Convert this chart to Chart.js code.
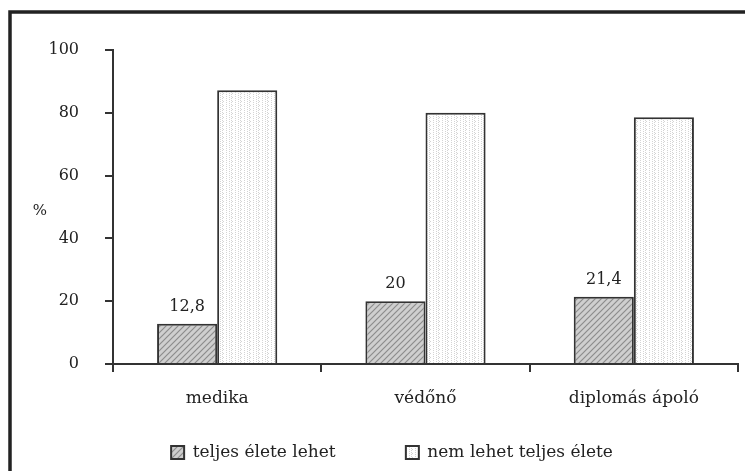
<!DOCTYPE html>
<html>
<head>
<meta charset="utf-8">
<script src="https://cdn.jsdelivr.net/npm/chart.js@4.4.0/dist/chart.umd.min.js"></script>
<style>
  html, body { margin: 0; padding: 0; background: #fff; }
</style>
</head>
<body>
<canvas id="chart" width="745" height="471"></canvas>
<script>
// data
const categories = ['medika', 'védőnő', 'diplomás ápoló'];
const seriesNames = ['teljes élete lehet', 'nem lehet teljes élete'];
const canLive = [12.8, 20, 21.4];
const cannotLive = [87.2, 80, 78.6];
const yMin = 0, yMax = 100, yStep = 20;

const ink = '#222';
const axisColor = '#333';
const textFont = { family: 'DejaVu Serif', size: 17 };
const numFont = { family: 'DejaVu Serif', size: 16 };

// small fill patterns like the printed bars
function hatchPattern() {
  const c = document.createElement('canvas');
  c.width = 6; c.height = 6;
  const g = c.getContext('2d');
  g.fillStyle = '#cfcfcf';
  g.fillRect(0, 0, 6, 6);
  g.strokeStyle = '#8c8c8c';
  g.lineWidth = 1.2;
  g.beginPath();
  g.moveTo(-1, 7); g.lineTo(7, -1);
  g.moveTo(-4, 4); g.lineTo(4, -4);
  g.moveTo(2, 10); g.lineTo(10, 2);
  g.stroke();
  return g.createPattern(c, 'repeat');
}

function dotPattern() {
  const c = document.createElement('canvas');
  c.width = 9; c.height = 4;
  const g = c.getContext('2d');
  g.fillStyle = '#fff';
  g.fillRect(0, 0, 9, 4);
  g.fillStyle = '#d4d4d4';
  [[1, 0], [1, 2], [4, 1], [4, 3], [6, 0], [6, 2], [7, 1]].forEach(p => g.fillRect(p[0], p[1], 1, 1));
  return g.createPattern(c, 'repeat');
}

// frame + "%" label
const framePlugin = {
  id: 'frame',
  afterDraw(chart) {
    const ctx = chart.ctx;
    ctx.save();
    ctx.strokeStyle = ink;
    ctx.lineWidth = 3.5;
    ctx.beginPath();
    ctx.moveTo(10, 475);
    ctx.lineTo(10, 12);
    ctx.lineTo(760, 12);
    ctx.stroke();
    ctx.fillStyle = ink;
    ctx.font = '15px "DejaVu Serif"';
    ctx.textAlign = 'center';
    ctx.textBaseline = 'middle';
    ctx.fillText('%', 40, 211);
    ctx.restore();
  }
};

// value labels above the first series
const valueLabels = {
  id: 'valueLabels',
  afterDatasetsDraw(chart) {
    const ctx = chart.ctx;
    const meta = chart.getDatasetMeta(0);
    ctx.save();
    ctx.fillStyle = ink;
    ctx.font = numFont.size + 'px "' + numFont.family + '"';
    ctx.textAlign = 'center';
    ctx.textBaseline = 'bottom';
    meta.data.forEach((bar, i) => {
      ctx.fillText(String(canLive[i]).replace('.', ','), bar.x, bar.y - 9);
    });
    ctx.restore();
  }
};

const ctx = document.getElementById('chart').getContext('2d');
new Chart(ctx, {
  type: 'bar',
  data: {
    labels: categories,
    datasets: [
      {
        label: seriesNames[0],
        data: canLive,
        backgroundColor: hatchPattern(),
        borderColor: axisColor,
        borderWidth: 2
      },
      {
        label: seriesNames[1],
        data: cannotLive,
        backgroundColor: dotPattern(),
        borderColor: axisColor,
        borderWidth: 2
      }
    ]
  },
  options: {
    responsive: false,
    animation: false,
    categoryPercentage: 0.577,
    barPercentage: 1,
    layout: { padding: { left: 46, right: 7, top: 50, bottom: 0 } },
    plugins: {
      tooltip: { enabled: false },
      legend: {
        position: 'bottom',
        labels: {
          color: ink,
          font: textFont,
          boxWidth: 13,
          boxHeight: 13,
          padding: 0,
          // widen the first entry so the second sits where it does in the print
          generateLabels(chart) {
            const items = Chart.defaults.plugins.legend.labels.generateLabels(chart);
            if (items.length) items[0].text += '\u00a0'.repeat(13);
            return items;
          }
        }
      }
    },
    scales: {
      x: {
        afterFit(scale) { scale.height = 80; },
        grid: { drawOnChartArea: false, tickLength: 8, color: axisColor, lineWidth: 2 },
        border: { color: axisColor, width: 2 },
        ticks: { color: ink, font: textFont, padding: 16, maxRotation: 0 }
      },
      y: {
        min: yMin,
        max: yMax,
        afterFit(scale) { scale.width = 67; },
        grid: { drawOnChartArea: false, tickLength: 8, color: axisColor, lineWidth: 2 },
        border: { color: axisColor, width: 2 },
        ticks: { stepSize: yStep, color: ink, font: numFont, padding: 26 }
      }
    }
  },
  plugins: [framePlugin, valueLabels]
});
</script>
</body>
</html>
